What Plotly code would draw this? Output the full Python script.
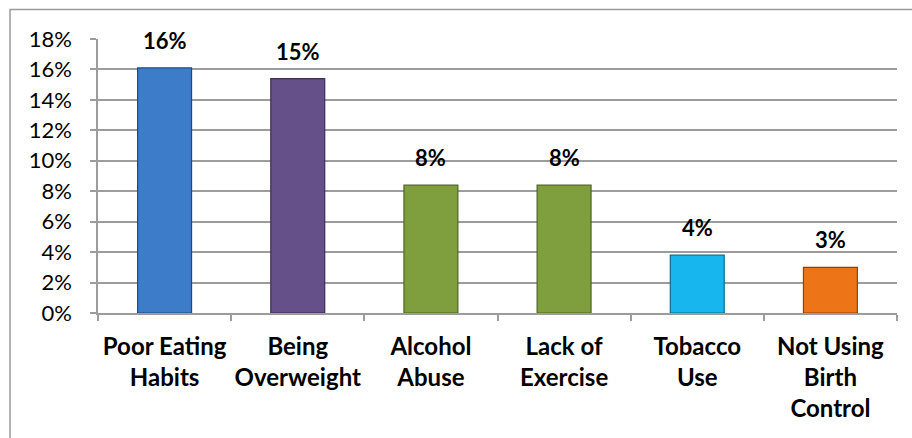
import plotly.graph_objects as go

categories = ["Poor Eating<br>Habits", "Being<br>Overweight", "Alcohol<br>Abuse",
              "Lack of<br>Exercise", "Tobacco<br>Use", "Not Using<br>Birth<br>Control"]
values = [0.161, 0.154, 0.084, 0.084, 0.038, 0.030]
fill_colors = ["#3d7cc9", "#65508a", "#7f9f3e", "#7f9f3e", "#18b6ee", "#ee7418"]
line_colors = ["#1f4a80", "#3b2d55", "#4d6424", "#4d6424", "#0d6b8e", "#8f4208"]
y_ticks = [0, 0.02, 0.04, 0.06, 0.08, 0.10, 0.12, 0.14, 0.16, 0.18]

FONT = "Lato"

fig = go.Figure()
fig.add_trace(go.Bar(
    x=categories, y=values, width=0.405,
    marker=dict(color=fill_colors, line=dict(color=line_colors, width=1.2)),
    hoverinfo="skip",
))

for c, v in zip(categories, values):
    fig.add_annotation(x=c, y=v, xref="x", yref="y", text="<b>%d%%</b>" % round(v * 100),
                       showarrow=False, yanchor="bottom", yshift=12,
                       font=dict(family=FONT, size=22, color="black"))

# outer chart border
fig.add_shape(type="rect", xref="paper", yref="paper",
              x0=-0.1101, x1=1.03, y0=-0.47, y1=1.1075,
              line=dict(color="#9a9a9a", width=1.5), fillcolor="rgba(0,0,0,0)", layer="below")

fig.update_layout(
    width=912, height=438,
    margin=dict(l=98, r=15, t=39, b=125),
    paper_bgcolor="white", plot_bgcolor="white",
    showlegend=False, bargap=0.6,
    font=dict(family=FONT, color="black"),
)
fig.update_yaxes(
    range=[0, 0.18], tickvals=y_ticks, tickformat=".0%",
    showgrid=True, gridcolor="#9c9c9c", gridwidth=1.6,
    showline=True, linecolor="#9c9c9c", linewidth=1.6,
    ticks="outside", ticklen=6, tickcolor="#9c9c9c", tickwidth=1.6,
    ticklabelstandoff=14, automargin=False,
    tickfont=dict(family=FONT, size=22, color="black"),
    zeroline=False,
)
fig.update_xaxes(
    showline=True, linecolor="#9c9c9c", linewidth=1.6,
    ticks="outside", ticklen=6, tickcolor="#9c9c9c", tickwidth=1.6,
    tickson="boundaries", ticklabelstandoff=11, tickangle=0, automargin=False,
    tickfont=dict(family=FONT, size=24, color="black"),
    tickprefix="<b>", ticksuffix="</b>",
)

fig.write_html("out.html")
